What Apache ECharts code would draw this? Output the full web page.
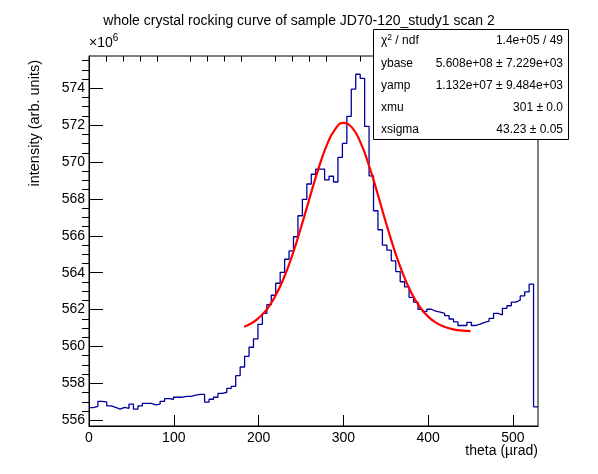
<!DOCTYPE html>
<html>
<head>
<meta charset="utf-8">
<script src="https://cdn.jsdelivr.net/npm/echarts/dist/echarts.min.js"></script>
<style>
  html, body { margin: 0; padding: 0; background: #fff; }
  #chart { width: 598px; height: 474px; }
</style>
</head>
<body>
<div id="chart"></div>
<script>
// histogram: 101 bins starting at theta = 0, values in units of 1e6
const binWidth = 5.243;
const counts = [
  556.69, 556.75, 557.03, 556.98, 556.78, 556.70, 556.60, 556.70, 556.65, 556.88,
  556.60, 556.78, 556.92, 556.92, 556.83, 556.88, 557.03, 557.17, 557.14, 557.25,
  557.25, 557.30, 557.30, 557.36, 557.41, 557.41, 556.98, 557.14, 557.25, 557.46,
  557.52, 557.73, 557.84, 558.42, 558.89, 559.47, 559.96, 560.41, 561.20, 561.80,
  562.27, 562.78, 563.43, 564.02, 564.73, 565.18, 565.95, 567.09, 567.98, 568.81,
  569.34, 569.62, 569.62, 569.03, 569.23, 568.92, 570.25, 571.01, 572.48, 573.95,
  574.76, 574.54, 571.93, 569.25, 567.36, 566.33, 565.50, 565.22, 564.64, 564.06,
  563.51, 563.23, 562.66, 562.41, 562.02, 561.90, 562.02, 561.92, 561.87, 561.79,
  561.67, 561.49, 561.33, 561.14, 561.14, 561.31, 561.14, 561.21, 561.31, 561.38,
  561.52, 561.80, 561.71, 562.07, 562.21, 562.41, 562.51, 562.74, 562.96, 563.38,
  556.73
];

// red fit curve
const fitX = [183, 190, 200, 210, 220, 230, 240, 250, 260, 270, 280, 290, 300, 310,
  320, 330, 340, 350, 360, 370, 380, 390, 400, 410, 420, 430, 440, 450];
const fitY = [561.07, 561.22, 561.54, 562.03, 562.76, 563.74, 564.98, 566.45, 568.02,
  569.55, 570.86, 571.76, 572.12, 571.88, 571.08, 569.84, 568.34, 566.75, 565.26,
  563.97, 562.93, 562.16, 561.62, 561.27, 561.06, 560.93, 560.86, 560.83];

const xTicks = [0, 100, 200, 300, 400, 500];
const xMinor = [20, 40, 60, 80, 120, 140, 160, 180, 220, 240, 260, 280, 320, 340,
  360, 380, 420, 440, 460, 480, 520];
const yTicks = [556, 558, 560, 562, 564, 566, 568, 570, 572, 574];
const yMinor = [556.5, 557, 557.5, 558.5, 559, 559.5, 560.5, 561, 561.5, 562.5, 563, 563.5,
  564.5, 565, 565.5, 566.5, 567, 567.5, 568.5, 569, 569.5, 570.5, 571, 571.5,
  572.5, 573, 573.5, 574.5, 575, 575.5];

const statRows = [
  ['{g|χ}{sup|2}{g| / ndf}', '1.4e+05 / 49'],
  ['ybase', '5.608e+08 ± 7.229e+03'],
  ['yamp', '1.132e+07 ± 9.484e+03'],
  ['xmu', '301 ± 0.0'],
  ['xsigma', '43.23 ± 0.05']
];

const font = 'Liberation Sans, Arial, Helvetica, sans-serif';
const yMin = 555.69, yMax = 575.75;
const xMax = counts.length * binWidth;

let histData = counts.map((v, i) => [i * binWidth, v]);
histData.push([xMax, counts[counts.length - 1]]);
let fitData = fitX.map((x, i) => [x, fitY[i]]);

const hiddenAxis = (extra) => Object.assign({
  type: 'value', axisLine: {show: false}, axisLabel: {show: false},
  splitLine: {show: false}
}, extra);

let myChart = echarts.init(document.getElementById('chart'), null, {renderer: 'canvas'});

let option = {
  animation: false,
  backgroundColor: '#fff',
  title: {
    text: 'whole crystal rocking curve of sample JD70-120_study1 scan 2',
    left: 'center', top: 9,
    textStyle: {fontFamily: font, fontSize: 14, fontWeight: 'normal', color: '#000'}
  },
  grid: {left: 89, right: 60, top: 56, bottom: 48, show: true,
    borderColor: '#000', borderWidth: 1, backgroundColor: 'transparent'},
  xAxis: [
    {
      type: 'value', min: 0, max: xMax,
      axisLine: {show: true, lineStyle: {color: '#000', width: 1}},
      axisTick: {show: true, inside: true, length: 11, customValues: xTicks,
        lineStyle: {color: '#000'}},
      axisLabel: {customValues: xTicks, margin: 5, color: '#000',
        fontFamily: font, fontSize: 14},
      splitLine: {show: false}
    },
    hiddenAxis({min: 0, max: xMax,
      axisTick: {show: true, inside: true, length: 5.5, customValues: xMinor,
        lineStyle: {color: '#000'}}})
  ],
  yAxis: [
    {
      type: 'value', min: yMin, max: yMax,
      axisLine: {show: true, lineStyle: {color: '#000', width: 1}},
      axisTick: {show: true, inside: true, length: 14, customValues: yTicks,
        lineStyle: {color: '#000'}},
      axisLabel: {customValues: yTicks, margin: 4, color: '#000',
        fontFamily: font, fontSize: 14, padding: [6, 0, 0, 0],
        formatter: v => String(Math.round(v))},
      splitLine: {show: false}
    },
    hiddenAxis({min: yMin, max: yMax,
      axisTick: {show: true, inside: true, length: 7, customValues: yMinor,
        lineStyle: {color: '#000'}}})
  ],
  series: [
    {
      type: 'line', step: 'end', data: histData, symbol: 'none',
      lineStyle: {color: '#00009c', width: 1.3}, z: 3
    },
    {
      type: 'line', smooth: true, data: fitData, symbol: 'none',
      lineStyle: {color: '#ff0000', width: 2.2}, z: 4
    }
  ],
  graphic: []
};

// axis titles and exponent
option.graphic.push({
  type: 'text', x: 35, y: 60, rotation: Math.PI / 2, z: 50,
  style: {text: 'intensity (arb. units)', font: '14.5px ' + font, fill: '#000',
    align: 'right', verticalAlign: 'middle'}
});
option.graphic.push({
  type: 'text', x: 538, y: 451, z: 50,
  style: {text: 'theta (µrad)', font: '14px ' + font, fill: '#000',
    align: 'right', verticalAlign: 'middle'}
});
option.graphic.push({
  type: 'text', x: 89, y: 50, z: 50,
  style: {text: '{b|×10}{s|6}', verticalAlign: 'bottom',
    rich: {b: {fontFamily: font, fontSize: 14, fill: '#000', verticalAlign: 'bottom'},
      s: {fontFamily: font, fontSize: 10, fill: '#000', padding: [0, 0, 7, 0]}}}
});

// stats box
option.graphic.push({
  type: 'rect', z: 60,
  shape: {x: 373.5, y: 29.5, width: 195, height: 110},
  style: {fill: '#fff', stroke: '#000', lineWidth: 1}
});
statRows.forEach((row, i) => {
  let cy = 41 + i * 22.2;
  option.graphic.push({
    type: 'text', x: 381, y: cy, z: 61,
    style: {text: row[0], font: '12px ' + font, fill: '#000', verticalAlign: 'middle',
      rich: {g: {fontFamily: font, fontSize: 12, fill: '#000'},
        sup: {fontFamily: font, fontSize: 8.5, fill: '#000', padding: [0, 0, 6, 0]}}}
  });
  option.graphic.push({
    type: 'text', x: 563, y: cy, z: 61,
    style: {text: row[1], font: '12px ' + font, fill: '#000',
      align: 'right', verticalAlign: 'middle'}
  });
});

myChart.setOption(option);
</script>
</body>
</html>
